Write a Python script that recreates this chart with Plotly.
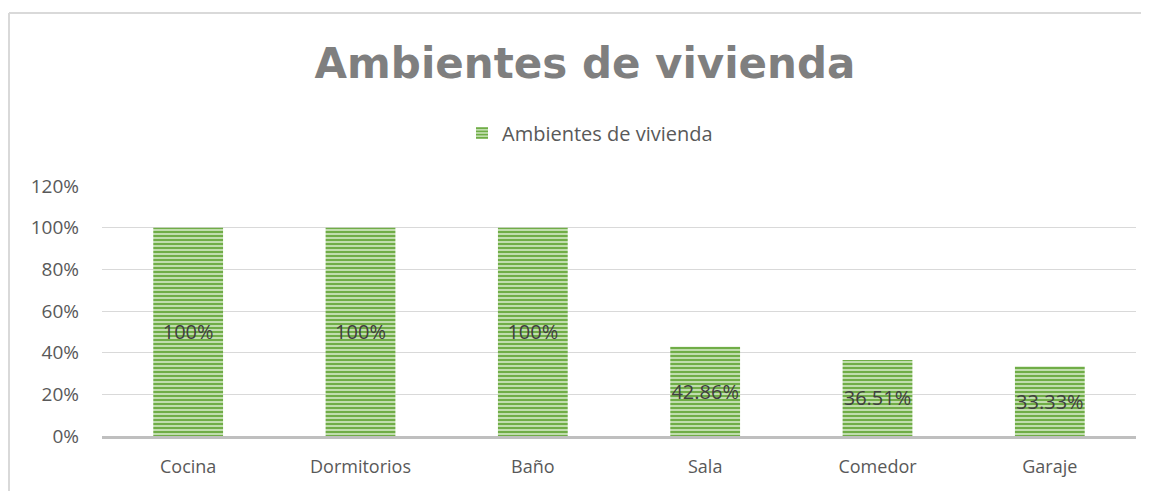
import plotly.graph_objects as go

categories = ["Cocina", "Dormitorios", "Baño", "Sala", "Comedor", "Garaje"]
values = [1.0, 1.0, 1.0, 0.4286, 0.3651, 0.3333]
labels = ["100%", "100%", "100%", "42.86%", "36.51%", "33.33%"]
series_name = "Ambientes de vivienda"
title_text = "Ambientes de vivienda"
y_ticks = [0, 0.2, 0.4, 0.6, 0.8, 1.0, 1.2]

OFF = 8  # default page body margin
W, H = 1149 - OFF, 491 - OFF
L, R, T, B = 102 - OFF, 13, 186 - OFF, 55

fig = go.Figure()
fig.add_trace(go.Bar(
    x=categories, y=values, name=series_name,
    text=labels, textposition="inside", insidetextanchor="middle",
    textangle=0, constraintext="none",
    textfont=dict(family="Open Sans", size=20, color="#404040"),
    marker=dict(
        color="#c5e0b4",
        line=dict(width=0),
        pattern=dict(shape="-", fgcolor="#70ad47", bgcolor="#c9e3b8",
                     size=4, solidity=0.55, fgopacity=1, fillmode="replace"),
    ),
    width=0.405,
    showlegend=True,
))

pw = W - L - R
ph = H - T - B
x0 = (1 - L) / pw
ytop = (H - B - 5) / ph
ybot = (H - B - H - 5) / ph
fig.add_shape(type="line", xref="paper", yref="paper", x0=x0, x1=x0, y0=ybot, y1=ytop,
              line=dict(color="#d9d9d9", width=2))
fig.add_shape(type="line", xref="paper", yref="paper", x0=x0, x1=(W + 5 - L) / pw, y0=ytop, y1=ytop,
              line=dict(color="#d9d9d9", width=2))

fig.update_layout(
    width=W, height=H,
    margin=dict(l=L, r=R, t=T, b=B, pad=0),
    paper_bgcolor="white", plot_bgcolor="white",
    title=dict(text="<b>" + title_text + "</b>", x=(585 - OFF - L) / pw, xref="paper", xanchor="center",
               y=(H - (63 - OFF)) / H, yref="container", yanchor="middle",
               font=dict(family="DejaVu Sans", size=42, color="#7f7f7f")),
    legend=dict(orientation="h", x=(590 - OFF - L) / pw, xanchor="center",
                y=(H - B - (133 - OFF)) / ph,
                yanchor="middle", font=dict(family="Open Sans", size=20, color="#595959"),
                itemsizing="constant", bgcolor="rgba(0,0,0,0)"),
    font=dict(family="Open Sans", color="#595959"),
)
fig.update_yaxes(range=[0, 1.2], tickvals=y_ticks, tickformat=".0%",
                 showgrid=True, gridcolor="#d9d9d9", gridwidth=1,
                 zeroline=False, showline=False, ticks="", ticklabelstandoff=22,
                 tickfont=dict(family="Open Sans", size=19, color="#595959"))
fig.update_xaxes(showline=True, linecolor="#bfbfbf", linewidth=3, ticks="",
                 ticklabelstandoff=12,
                 tickfont=dict(family="Open Sans", size=18, color="#595959"))

fig.write_html("out.html")
